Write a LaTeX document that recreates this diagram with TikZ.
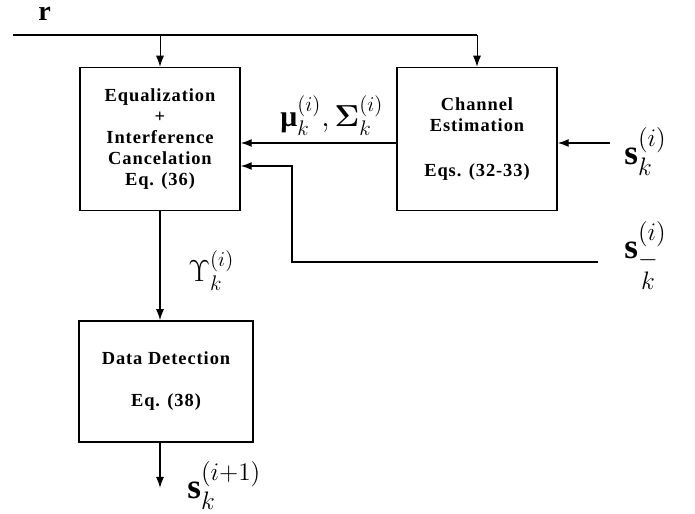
\documentclass[tikz,border=0pt]{standalone}
\usepackage{amsmath}
\usepackage{amssymb}
\usepackage{bm}
\usepackage{fontspec}
\setmainfont{Liberation Serif}
\newfontfamily\boxfont[LetterSpace=5]{Liberation Serif}
\usetikzlibrary{positioning,arrows.meta,calc}

\begin{document}
\begin{tikzpicture}[
    box/.style={rectangle, draw, line width=0.85pt, minimum width=3.2cm, minimum height=2.86cm, align=center, font=\boxfont\fontsize{10.5}{12}\selectfont\bfseries},
    arrow/.style={-{Latex[length=2.2mm,width=1.6mm]}, line width=0.75pt},
    thinarrow/.style={-{Latex[length=2.2mm,width=1.6mm]}, line width=0.5pt},
    lbl/.style={inner sep=0pt, anchor=base west, font=\fontsize{17}{20}\selectfont},
    biglbl/.style={inner sep=0pt, anchor=base west, font=\fontsize{20}{24}\selectfont}
]
    \useasboundingbox (0,0) rectangle (13.9,10.28);

    % Blocks
    \node[box] (eq) at (3.2, 7.5) {Equalization\\+\\Interference\\Cancelation\\Eq. (36)};
    \node[box] (chan) at (9.54, 7.5) {Channel\\Estimation\\[0.46cm]Eqs. (32-33)};
    \node[box, minimum width=3.48cm, minimum height=2.42cm] (det) at (3.32, 2.65) {Data Detection\\[0.42cm]Eq. (38)};

    % Received signal
    \node[inner sep=0pt, anchor=base west, font=\fontsize{16}{19}\selectfont\bfseries] (r) at (0.76, 9.86) {r};
    \coordinate (bus_start) at (0.26, 9.58);
    \coordinate (bus_end) at (chan.north |- bus_start);
    \coordinate (bus_eq) at (eq.north |- bus_start);
    \draw[line width=0.8pt] (bus_start) -- (bus_end);
    \draw[thinarrow] (bus_end) -- (chan.north);
    \draw[thinarrow] (bus_eq) -- (eq.north);

    % Channel estimates
    \coordinate (mu_out) at (chan.west |- 0,7.42);
    \coordinate (mu_in) at (eq.east |- mu_out);
    \draw[arrow] (mu_out) -- (mu_in);
    \node[lbl] (mu) at (5.6, 7.74) {$\text{\bfseries μ}_k^{(i)}, \boldsymbol{\Sigma}_k^{(i)}$};

    % Symbol inputs
    \coordinate (sk_in) at (12.2, 7.42);
    \coordinate (sk_end) at (chan.east |- sk_in);
    \draw[arrow] (sk_in) -- (sk_end);
    \node[biglbl] (sk) at (12.48, 6.98) {$\mathbf{s}_k^{(i)}$};

    \coordinate (skb_in) at (11.96, 5.04);
    \coordinate (skb_turn) at (5.84, 5.04);
    \coordinate (eq_in) at (eq.east |- 0,6.96);
    \draw[arrow] (skb_in) -- (skb_turn) |- (eq_in);
    \node[biglbl] (skb) at (12.48, 5.1) {$\mathbf{s}^{(i)}_{\substack{-\\k}}$};

    % Detection
    \coordinate (det_in) at (eq.south |- det.north);
    \draw[arrow] (eq.south) -- (det_in);
    \node[lbl] (ups) at (3.76, 4.64) {$\Upsilon_k^{(i)}$};

    \coordinate (det_out) at (eq.south |- det.south);
    \coordinate (out) at (3.2, 0.52);
    \draw[arrow] (det_out) -- (out);
    \node[biglbl] (snext) at (3.74, 0.3) {$\mathbf{s}_k^{(i+1)}$};
\end{tikzpicture}
\end{document}
